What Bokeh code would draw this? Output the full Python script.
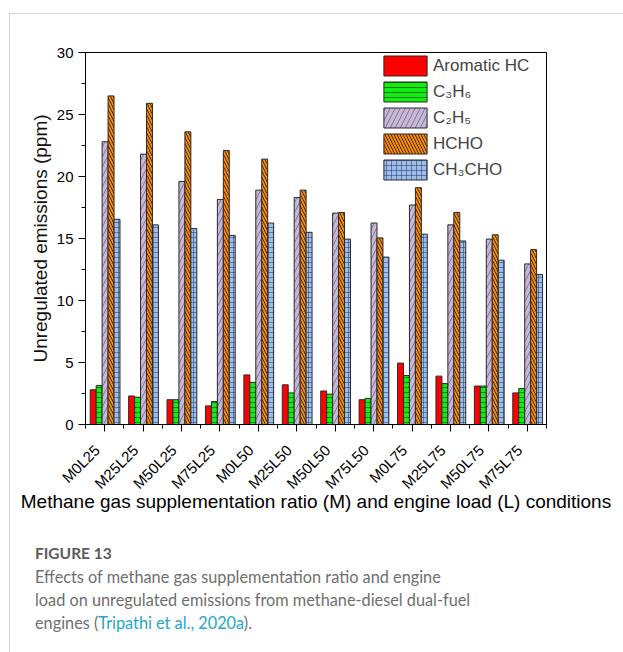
import math
from bokeh.plotting import figure
from bokeh.models import (ColumnDataSource, FixedTicker, Range1d, Legend, LegendItem, Div,
                          LinearAxis, CustomLabelingPolicy)
from bokeh.layouts import column
from bokeh.transform import dodge
from bokeh.embed import file_html
from bokeh.resources import INLINE

conditions = ["M0L25", "M25L25", "M50L25", "M75L25", "M0L50", "M25L50",
              "M50L50", "M75L50", "M0L75", "M25L75", "M50L75", "M75L75"]
aromatic_hc = [2.8, 2.3, 2.0, 1.5, 4.0, 3.2, 2.7, 2.0, 4.95, 3.9, 3.1, 2.55]
c3h6 = [3.15, 2.2, 2.0, 1.85, 3.4, 2.55, 2.45, 2.1, 3.95, 3.3, 3.1, 2.9]
c2h5 = [22.8, 21.8, 19.6, 18.15, 18.9, 18.3, 17.05, 16.25, 17.7, 16.1, 14.95, 12.95]
hcho = [26.5, 25.9, 23.6, 22.1, 21.4, 18.9, 17.1, 15.05, 19.1, 17.1, 15.3, 14.1]
ch3cho = [16.55, 16.1, 15.8, 15.25, 16.25, 15.5, 14.95, 13.5, 15.35, 14.8, 13.25, 12.1]
y_ticks = [0, 5, 10, 15, 20, 25, 30]

xpos = [i + 0.5 for i in range(len(conditions))]
label_pos = [x - 0.2 for x in xpos]
src = ColumnDataSource(dict(x=xpos, aromatic=aromatic_hc, c3h6=c3h6, c2h5=c2h5,
                            hcho=hcho, ch3cho=ch3cho))

p = figure(frame_width=461, frame_height=372,
           x_range=Range1d(0, len(conditions)), y_range=Range1d(0, 30),
           output_backend="svg", toolbar_location=None,
           min_border_left=75, min_border_right=73, min_border_top=38, min_border_bottom=110,
           background_fill_color="white", border_fill_color="white")

p.xgrid.visible = False
p.ygrid.visible = False
p.outline_line_color = "black"
p.outline_line_width = 1

FONT = "Liberation Sans"
bw = 0.155
series = [
    ("aromatic", "Aromatic HC", "#ff0000", None, {}),
    ("c3h6", "C\u2083H\u2086", "#10ee10", "-", dict(hatch_color="#111111", hatch_alpha=0.55, hatch_scale=5, hatch_weight=1)),
    ("c2h5", "C\u2082H\u2085", "#c7b7da", "/", dict(hatch_color="#555555", hatch_alpha=0.8, hatch_scale=10, hatch_weight=0.8)),
    ("hcho", "HCHO", "#ff8a00", "\\", dict(hatch_color="#222222", hatch_alpha=0.9, hatch_scale=6, hatch_weight=1)),
    ("ch3cho", "CH\u2083CHO", "#9dbdec", "+", dict(hatch_color="#223355", hatch_alpha=0.5, hatch_scale=5, hatch_weight=1)),
]
offsets = [-2 * bw, -bw, 0, bw, 2 * bw]
items = []
for (col, name, color, hatch, hkw), off in zip(series, offsets):
    kw = dict(fill_color=color, line_color="#2a2a2a", line_width=1)
    if hatch:
        kw.update(hatch_pattern=hatch, **hkw)
    r = p.vbar(x=dodge("x", off + 0.01, range=p.x_range), top=col, width=bw, bottom=0,
               source=src, **kw)
    items.append(LegendItem(label=name, renderers=[r]))

legend = Legend(items=items, location=(293, 242), padding=2, margin=0, spacing=1,
                glyph_width=54, glyph_height=25, label_height=25, label_standoff=1,
                label_text_font=FONT, label_text_font_size="17px",
                border_line_color=None, background_fill_alpha=0)
p.add_layout(legend, "center")

# x axis: tick marks only (no labels drawn)
xa = p.xaxis[0]
xa.ticker = FixedTicker(ticks=xpos, minor_ticks=list(range(len(conditions) + 1)))
xa.major_label_policy = CustomLabelingPolicy(code="for (const i of indices) { if (i < 0) yield i }")
xa.major_label_text_font_size = "1px"
xa.major_label_standoff = 0
xa.major_tick_in = 0
xa.major_tick_out = 7
xa.minor_tick_in = 0
xa.minor_tick_out = 4
xa.axis_line_color = "black"
xa.major_tick_line_color = "black"
xa.minor_tick_line_color = "black"

# x axis: rotated category labels + title
xl = LinearAxis(ticker=FixedTicker(ticks=label_pos, minor_ticks=[]),
                major_label_overrides={x: c for x, c in zip(label_pos, conditions)},
                major_label_orientation=math.pi / 4,
                major_label_text_font=FONT, major_label_text_font_size="15px",
                major_label_text_color="black", major_label_standoff=12,
                major_tick_in=0, major_tick_out=0,
                axis_line_color=None, major_tick_line_color=None, minor_tick_line_color=None,
                axis_label="Methane gas supplementation ratio (M) and engine load (L) conditions",
                axis_label_text_font=FONT, axis_label_text_font_size="19px",
                axis_label_text_font_style="normal", axis_label_text_color="black",
                axis_label_standoff=-10)
p.add_layout(xl, "below")

# y axis
p.yaxis.ticker = FixedTicker(ticks=y_ticks, minor_ticks=[2.5, 7.5, 12.5, 17.5, 22.5, 27.5])
p.yaxis.major_label_text_font = FONT
p.yaxis.major_label_text_font_size = "15px"
p.yaxis.major_label_text_color = "black"
p.yaxis.major_label_standoff = 5
p.yaxis.axis_label = "Unregulated emissions (ppm)"
p.yaxis.axis_label_text_font = FONT
p.yaxis.axis_label_text_font_size = "19px"
p.yaxis.axis_label_text_font_style = "normal"
p.yaxis.axis_label_text_color = "#111111"
p.yaxis.axis_label_standoff = 3
p.yaxis.major_tick_in = 0
p.yaxis.major_tick_out = 7
p.yaxis.minor_tick_in = 0
p.yaxis.minor_tick_out = 4
p.yaxis.axis_line_color = "black"
p.yaxis.major_tick_line_color = "black"
p.yaxis.minor_tick_line_color = "black"

caption_html = (
    '<div style="font-family:Lato,\'Open Sans\',sans-serif;font-size:16.3px;line-height:23px;'
    'padding:3px 0 0 20px;">'
    '<div style="font-weight:bold;color:#5b5b5b;font-size:15.5px;">FIGURE 13</div>'
    '<div style="color:#6f6f6f;">Effects of methane gas supplementation ratio and engine<br>'
    'load on unregulated emissions from methane-diesel dual-fuel<br>'
    'engines (<span style="color:#22a8c8;">Tripathi et al., 2020a</span>).</div></div>'
)
cap = Div(text=caption_html, width=609, height=118)

layout = column(p, cap, margin=(13, 0, 0, 9),
                styles={"border": "1px solid #d6d6d6", "border-bottom": "none",
                        "background-color": "white"})

open("out.html", "w").write(file_html(layout, INLINE))
